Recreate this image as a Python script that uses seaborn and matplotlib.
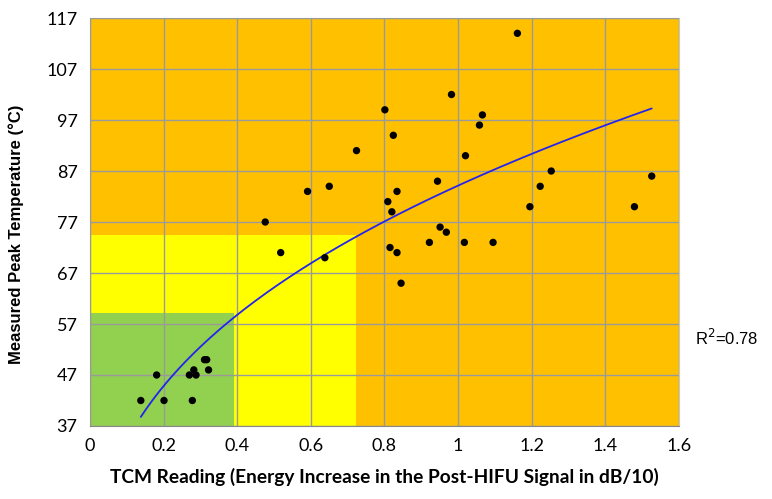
import numpy as np
import pandas as pd
import matplotlib
matplotlib.use('Agg')
import matplotlib.pyplot as plt
import seaborn as sns

# TCM reading vs measured peak temperature
tcm = [0.138, 0.181, 0.201, 0.270, 0.278, 0.282, 0.288, 0.311, 0.317, 0.322,
       0.476, 0.518, 0.591, 0.638, 0.650, 0.724, 0.801, 0.809, 0.815, 0.820,
       0.824, 0.834, 0.834, 0.845, 0.922, 0.944, 0.951, 0.968, 0.982, 1.017,
       1.020, 1.058, 1.066, 1.095, 1.161, 1.195, 1.223, 1.253, 1.479, 1.526]
temp = [42, 47, 42, 47, 42, 48, 47, 50, 50, 48,
        77, 71, 83, 70, 84, 91, 99, 81, 72, 79,
        94, 83, 71, 65, 73, 85, 76, 75, 102, 73,
        90, 96, 98, 73, 114, 80, 84, 87, 80, 86]

# colour zones (x limit, y limit)
green_zone = (0.392, 59.1)
yellow_zone = (0.722, 74.4)

x_ticks = [0, 0.2, 0.4, 0.6, 0.8, 1.0, 1.2, 1.4, 1.6]
x_ticklabels = ['0', '0.2', '0.4', '0.6', '0.8', '1', '1.2', '1.4', '1.6']
y_ticks = [37, 47, 57, 67, 77, 87, 97, 107, 117]

df = pd.DataFrame({'tcm': tcm, 'temp': temp})

## power trendline, like the spreadsheet one
b, log_a = np.polyfit(np.log(df['tcm']), np.log(df['temp']), 1)
fit_x = np.linspace(df['tcm'].min(), df['tcm'].max(), 200)
fit = pd.DataFrame({'tcm': fit_x, 'temp': np.exp(log_a) * fit_x ** b})

sns.set_style('white')
plt.rcParams['font.family'] = ['Lato', 'DejaVu Sans']
plt.rcParams.update({'text.color': 'black', 'axes.labelcolor': 'black',
                     'xtick.labelcolor': 'black', 'ytick.labelcolor': 'black'})

fig, ax = plt.subplots(figsize=(7.72, 4.99), dpi=100)
fig.subplots_adjust(left=0.1166, right=0.8795, bottom=0.1463, top=0.9639)

ax.set_facecolor('#FFC000')
ax.fill_between([0, yellow_zone[0]], 37, yellow_zone[1], color='#FFFF00', lw=0, zorder=0)
ax.fill_between([0, green_zone[0]], 37, green_zone[1], color='#92D050', lw=0, zorder=0)

ax.grid(True, color='#9a9a9a', lw=1.0, zorder=1)
ax.set_axisbelow(False)

sns.lineplot(data=fit, x='tcm', y='temp', color='#2424ee', lw=1.3, ax=ax, zorder=3)
sns.scatterplot(data=df, x='tcm', y='temp', color='black', s=28,
                edgecolor='none', ax=ax, zorder=4)

ax.set_xlim(0, 1.6)
ax.set_ylim(37, 117)
ax.set_xticks(x_ticks)
ax.set_xticklabels(x_ticklabels, fontsize=13)
ax.set_yticks(y_ticks)
ax.set_yticklabels([str(t) for t in y_ticks], fontsize=13)
ax.tick_params(direction='out', length=4, color='#888888', labelcolor='black', pad=5)

for side in ['left', 'bottom']:
    ax.spines[side].set_color('#888888')
for side in ['top', 'right']:
    ax.spines[side].set_color('#c8c8c8')

ax.set_xlabel('TCM Reading (Energy Increase in the Post-HIFU Signal in dB/10)',
              fontsize=13.8, fontweight='bold', labelpad=10)
ax.set_ylabel('Measured Peak Temperature (\u00b0C)', fontsize=12,
              fontweight='bold', family='Liberation Sans', labelpad=8)
ax.yaxis.set_label_coords(-0.112, 0.47)

fig.text(0.9, 0.323, 'R$^2$=0.78', fontsize=12, family='Liberation Sans',
         va='center', ha='left')

fig.savefig('out.png', dpi=100)
